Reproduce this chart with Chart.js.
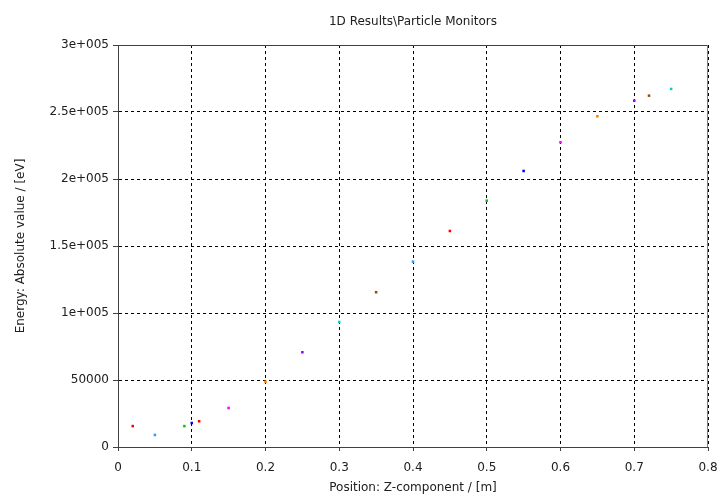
<!DOCTYPE html>
<html>
<head>
<meta charset="utf-8">
<script src="https://cdn.jsdelivr.net/npm/chart.js@4/dist/chart.umd.min.js"></script>
<style>
    html, body { margin: 0; padding: 0; background: #fff; }
    #wrap { width: 720px; height: 495px; }
</style>
</head>
<body>
<div id="wrap"><canvas id="monitorChart" width="720" height="495"></canvas></div>
<script>
// particle monitor readings
const positions = [0.02, 0.05, 0.09, 0.10, 0.11, 0.15, 0.20, 0.25, 0.30, 0.35,
    0.40, 0.45, 0.50, 0.55, 0.60, 0.65, 0.70, 0.72, 0.75];
const energies = [15600, 9000, 15600, 17900, 19200, 29100, 48700, 70700, 93300, 115500,
    138300, 161200, 183800, 206000, 227400, 246800, 258400, 262200, 267200];
const pointColors = ['#ff0000', '#3399ff', '#00cc00', '#0000ff', '#ff0000', '#ff00ff', '#ff8000', '#9900ff', '#00d0d0', '#994c00',
    '#3399ff', '#ff0000', '#00cc00', '#0000ff', '#ff00ff', '#ff8000', '#9900ff', '#994c00', '#00d0d0'];

const xTicks = [0, 0.1, 0.2, 0.3, 0.4, 0.5, 0.6, 0.7, 0.8];
const xTickLabels = ['0', '0.1', '0.2', '0.3', '0.4', '0.5', '0.6', '0.7', '0.8'];
const yTicks = [0, 50000, 100000, 150000, 200000, 250000, 300000];
const yTickLabels = ['0', '50000', '1e+005', '1.5e+005', '2e+005', '2.5e+005', '3e+005'];

const font = { family: 'DejaVu Sans', size: 12 };

const framePlugin = {
    id: 'frame',
    afterDatasetsDraw(chart) {
        const a = chart.chartArea;
        const ctx = chart.ctx;
        ctx.save();
        ctx.strokeStyle = '#404040';
        ctx.lineWidth = 1;
        ctx.beginPath();
        ctx.moveTo(a.left, a.top + 0.5);
        ctx.lineTo(a.right, a.top + 0.5);
        ctx.stroke();
        ctx.strokeStyle = '#808080';
        ctx.beginPath();
        ctx.moveTo(a.right - 0.5, a.top);
        ctx.lineTo(a.right - 0.5, a.bottom);
        ctx.stroke();
        ctx.restore();
    }
};

function fixedTicks(values) {
    return scale => {
        scale.ticks = values.map(v => ({ value: v }));
    };
}

const ctx = document.getElementById('monitorChart').getContext('2d');
new Chart(ctx, {
    type: 'scatter',
    data: {
        datasets: [{
            data: positions.map((x, i) => ({ x: x, y: energies[i] })),
            pointStyle: 'rect',
            pointRadius: 1.8,
            pointBorderWidth: 0,
            pointBackgroundColor: pointColors,
            pointHoverRadius: 1.8
        }]
    },
    options: {
        responsive: false,
        animation: false,
        events: [],
        layout: { padding: { left: 0, right: 12, top: 0, bottom: 0 } },
        plugins: {
            legend: { display: false },
            tooltip: { enabled: false }
        },
        scales: {
            x: {
                type: 'linear',
                position: 'bottom',
                min: 0,
                max: 0.8,
                afterBuildTicks: fixedTicks(xTicks),
                afterFit(scale) {
                    scale.height = 48;
                    scale.paddingLeft = 0;
                    scale.paddingRight = 0;
                },
                grid: {
                    color: '#000',
                    tickColor: '#404040',
                    tickLength: 4
                },
                border: { display: true, color: '#404040', width: 1, dash: [3, 3] },
                ticks: {
                    color: '#202020',
                    font: font,
                    padding: 10,
                    maxRotation: 0,
                    autoSkip: false,
                    callback: (v, i) => xTickLabels[i]
                },
                title: {
                    display: true,
                    text: 'Position: Z-component / [m]',
                    color: '#202020',
                    font: font,
                    padding: { top: 0, bottom: 0 }
                }
            },
            top: {
                type: 'linear',
                position: 'top',
                afterFit(scale) { scale.height = 45; },
                grid: { display: false },
                border: { display: false },
                ticks: { display: false },
                title: {
                    display: true,
                    text: '1D Results\\Particle Monitors',
                    color: '#202020',
                    font: font,
                    padding: { top: 15, bottom: 0 }
                }
            },
            y: {
                type: 'linear',
                min: 0,
                max: 300000,
                afterBuildTicks: fixedTicks(yTicks),
                afterFit(scale) { scale.width = 118; },
                grid: {
                    color: '#000',
                    tickColor: '#404040',
                    tickLength: 5
                },
                border: { display: true, color: '#404040', width: 1, dash: [3, 3] },
                ticks: {
                    color: '#202020',
                    font: font,
                    padding: 4,
                    autoSkip: false,
                    callback: (v, i) => yTickLabels[i]
                },
                title: {
                    display: true,
                    text: 'Energy: Absolute value / [eV]',
                    color: '#202020',
                    font: font,
                    padding: { top: 14, bottom: 0 }
                }
            }
        }
    },
    plugins: [framePlugin]
});
</script>
</body>
</html>
